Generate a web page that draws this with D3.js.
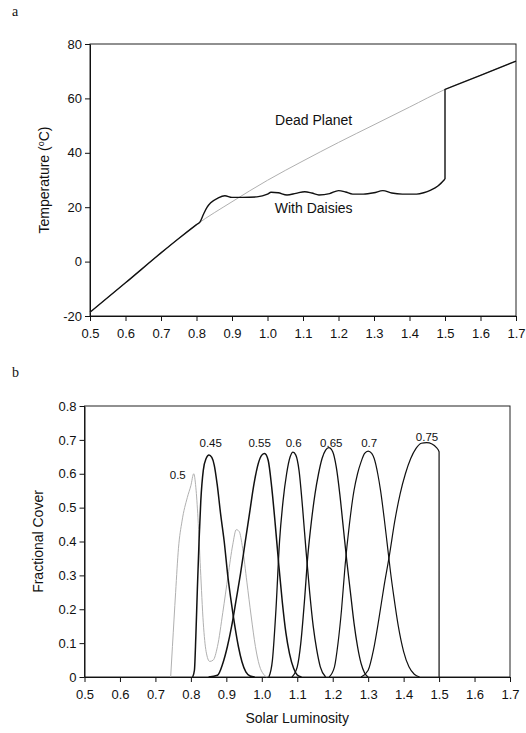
<!DOCTYPE html>
<html lang="en">
<head>
    <meta charset="UTF-8">
    <title>Daisyworld</title>
    <script src="https://d3js.org/d3.v7.min.js"></script>
    <style>
        body { margin: 0; background: #fff; }
        svg text { font-family: "Liberation Sans", Arial, sans-serif; fill: #111; }
        .axis path, .axis line { stroke: #111; stroke-width: 1px; }
        .axis text { font-size: 13px; }
        .frame { fill: none; stroke: #222; stroke-width: 1px; }
        .panel { font-family: "Liberation Serif", "Times New Roman", serif !important; font-size: 14px; }
    </style>
</head>
<body>
    <svg width="526" height="733"></svg>
    <script>
        // Panel a: temperature against solar luminosity
        const deadLum  = [0.5, 0.6, 0.7, 0.8, 0.9, 1.0, 1.1, 1.2, 1.3, 1.4, 1.5, 1.6, 1.7];
        const deadTemp = [-18.6, -7.8, 3.2, 13.6, 22.0, 29.9, 37.0, 43.8, 50.3, 56.8, 63.3, 68.5, 73.7];

        const daisyLum  = [0.5, 0.6, 0.7, 0.75, 0.8, 0.81, 0.82, 0.83, 0.84, 0.86, 0.88, 0.9, 0.93, 0.97, 1.0, 1.01, 1.03,
                           1.055, 1.08, 1.105, 1.125, 1.145, 1.175, 1.2, 1.22, 1.24, 1.27, 1.3, 1.325, 1.35,
                           1.38, 1.42, 1.44, 1.46, 1.48, 1.5, 1.5, 1.6, 1.7];
        const daisyTemp = [-18.6, -7.8, 3.2, 8.5, 13.6, 14.6, 17.5, 20.0, 21.6, 23.3, 24.2, 23.6, 23.6, 23.8, 24.8, 25.5, 25.3,
                           24.5, 25.1, 25.7, 25.2, 24.5, 25.0, 26.1, 25.6, 24.8, 24.8, 25.3, 26.1, 25.2,
                           24.8, 24.8, 25.3, 26.3, 27.8, 30.4, 63.3, 68.5, 73.7];

        const tempTicks = [-20, 0, 20, 40, 60, 80];
        const lumTicks  = [0.5, 0.6, 0.7, 0.8, 0.9, 1.0, 1.1, 1.2, 1.3, 1.4, 1.5, 1.6, 1.7];

        // Panel b: fractional cover of each daisy albedo
        const lum50 = [0.743, 0.748, 0.757, 0.765, 0.775, 0.79, 0.80, 0.808, 0.814, 0.82, 0.827, 0.835, 0.843, 0.853,
                       0.863, 0.875, 0.89, 0.905, 0.918, 0.928, 0.936, 0.946, 0.958, 0.97, 0.982, 0.993, 1.005, 1.015];
        const cov50 = [0, 0.09, 0.25, 0.38, 0.46, 0.53, 0.565, 0.60, 0.56, 0.47, 0.32, 0.16, 0.075, 0.046,
                       0.05, 0.09, 0.19, 0.30, 0.39, 0.435, 0.43, 0.38, 0.28, 0.18, 0.09, 0.035, 0.008, 0];

        const lum45 = [0.805, 0.81, 0.814, 0.818, 0.823, 0.828, 0.835, 0.843, 0.851, 0.859, 0.866, 0.874, 0.884,
                       0.894, 0.904, 0.914, 0.924, 0.934, 0.944, 0.955, 0.967, 0.98];
        const cov45 = [0, 0.02, 0.12, 0.25, 0.40, 0.52, 0.61, 0.645, 0.655, 0.648, 0.625, 0.57, 0.48,
                       0.40, 0.30, 0.22, 0.15, 0.09, 0.045, 0.015, 0.003, 0];

        const lum55 = [0.85, 0.875, 0.89, 0.903, 0.915, 0.928, 0.94, 0.952, 0.965, 0.978, 0.99, 1.0, 1.008, 1.018,
                       1.028, 1.038, 1.048, 1.058, 1.068, 1.078, 1.09, 1.1, 1.112];
        const cov55 = [0, 0.005, 0.04, 0.09, 0.15, 0.23, 0.305, 0.39, 0.48, 0.57, 0.63, 0.655, 0.66, 0.64,
                       0.56, 0.45, 0.33, 0.22, 0.13, 0.07, 0.025, 0.006, 0];

        const lum60 = [1.02, 1.03, 1.04, 1.05, 1.06, 1.07, 1.08, 1.088, 1.096, 1.105, 1.115, 1.125, 1.135, 1.145,
                       1.155, 1.165, 1.18];
        const cov60 = [0, 0.05, 0.2, 0.4, 0.52, 0.6, 0.65, 0.664, 0.655, 0.61, 0.5, 0.37, 0.25, 0.15,
                       0.08, 0.03, 0];

        const lum65 = [1.085, 1.1, 1.11, 1.12, 1.13, 1.14, 1.15, 1.16, 1.17, 1.18, 1.189, 1.2, 1.21, 1.22, 1.23,
                       1.24, 1.25, 1.26, 1.27, 1.28, 1.29, 1.3];
        const cov65 = [0, 0.03, 0.1, 0.22, 0.36, 0.46, 0.54, 0.6, 0.645, 0.67, 0.677, 0.665, 0.62, 0.54, 0.44,
                       0.34, 0.25, 0.16, 0.09, 0.04, 0.012, 0];

        const lum70 = [1.19, 1.205, 1.215, 1.225, 1.235, 1.247, 1.26, 1.27, 1.28, 1.29, 1.3, 1.31, 1.317, 1.327,
                       1.335, 1.345, 1.354, 1.363, 1.372, 1.385, 1.4, 1.415, 1.43, 1.445];
        const cov70 = [0, 0.03, 0.1, 0.2, 0.33, 0.45, 0.55, 0.6, 0.635, 0.66, 0.667, 0.66, 0.645, 0.6,
                       0.55, 0.47, 0.39, 0.31, 0.24, 0.15, 0.075, 0.03, 0.008, 0];

        const lum75 = [1.28, 1.3, 1.315, 1.33, 1.345, 1.36, 1.375, 1.39, 1.405, 1.42, 1.435, 1.45, 1.465, 1.48,
                       1.492, 1.5, 1.5];
        const cov75 = [0, 0.02, 0.08, 0.17, 0.27, 0.36, 0.46, 0.54, 0.6, 0.645, 0.675, 0.69, 0.692, 0.688,
                       0.678, 0.665, 0];

        const coverNames = ["0.5", "0.45", "0.55", "0.6", "0.65", "0.7", "0.75"];
        const labelLum   = [0.763, 0.856, 0.994, 1.09, 1.196, 1.303, 1.466];
        const labelCover = [0.596, 0.69, 0.69, 0.69, 0.69, 0.69, 0.708];
        const coverTicks = [0, 0.1, 0.2, 0.3, 0.4, 0.5, 0.6, 0.7, 0.8];

        const svg = d3.select("svg");
        const zip = (xs, ys) => xs.map((x, i) => [x, ys[i]]);

        // ---------- panel a ----------
        const xA = d3.scaleLinear().domain([0.5, 1.7]).range([90, 516]);
        const yA = d3.scaleLinear().domain([-20, 80]).range([316, 44]);

        svg.append("text").attr("class", "panel").attr("x", 12).attr("y", 16).text("a");

        svg.append("rect").attr("class", "frame")
            .attr("x", xA(0.5)).attr("y", yA(80))
            .attr("width", xA(1.7) - xA(0.5)).attr("height", yA(-20) - yA(80));

        svg.append("g").attr("class", "axis")
            .attr("transform", `translate(0,${yA(-20)})`)
            .call(d3.axisBottom(xA).tickValues(lumTicks).tickFormat(d3.format(".1f")).tickSize(5).tickSizeOuter(0))
            .selectAll("text").attr("dy", "1.05em");

        // plain hyphen for the negative tick, as in the original
        svg.append("g").attr("class", "axis")
            .attr("transform", `translate(${xA(0.5)},0)`)
            .call(d3.axisLeft(yA).tickValues(tempTicks).tickFormat(d => String(d)).tickSize(5).tickSizeOuter(0));

        const smoothA = d3.line().x(d => xA(d[0])).y(d => yA(d[1])).curve(d3.curveMonotoneX);
        const straightA = d3.line().x(d => xA(d[0])).y(d => yA(d[1]));

        svg.append("path").datum(zip(deadLum, deadTemp))
            .attr("fill", "none").attr("stroke", "#b0b0b0").attr("stroke-width", 1)
            .attr("d", smoothA);

        // the daisy curve is smooth up to the collapse at L = 1.5, then jumps to the dead-planet line
        const daisyPts = zip(daisyLum, daisyTemp);
        const jump = daisyLum.findIndex((v, i) => i > 0 && v === daisyLum[i - 1]);
        svg.append("path").datum(daisyPts.slice(0, jump))
            .attr("fill", "none").attr("stroke", "#111").attr("stroke-width", 1.4)
            .attr("d", smoothA);
        svg.append("path").datum(daisyPts.slice(jump - 1))
            .attr("fill", "none").attr("stroke", "#111").attr("stroke-width", 1.4)
            .attr("d", straightA);

        svg.append("text").attr("x", xA(1.13)).attr("y", yA(52)).attr("dy", "0.35em")
            .attr("text-anchor", "middle").attr("font-size", 14).text("Dead Planet");
        svg.append("text").attr("x", xA(1.13)).attr("y", yA(19.7)).attr("dy", "0.35em")
            .attr("text-anchor", "middle").attr("font-size", 14).text("With Daisies");

        const tTitle = svg.append("text")
            .attr("transform", `translate(44,${(yA(80) + yA(-20)) / 2}) rotate(-90)`)
            .attr("text-anchor", "middle").attr("dy", "0.35em").attr("font-size", 14);
        tTitle.append("tspan").text("Temperature (");
        tTitle.append("tspan").attr("font-size", 9).attr("dy", "-0.5em").text("o");
        tTitle.append("tspan").attr("dy", "0.32em").text("C)");

        // ---------- panel b ----------
        const xB = d3.scaleLinear().domain([0.5, 1.7]).range([84.5, 510]);
        const yB = d3.scaleLinear().domain([0, 0.8]).range([677, 406]);

        svg.append("text").attr("class", "panel").attr("x", 12).attr("y", 377).text("b");

        svg.append("rect").attr("class", "frame")
            .attr("x", xB(0.5)).attr("y", yB(0.8))
            .attr("width", xB(1.7) - xB(0.5)).attr("height", yB(0) - yB(0.8));

        svg.append("g").attr("class", "axis")
            .attr("transform", `translate(0,${yB(0)})`)
            .call(d3.axisBottom(xB).tickValues(lumTicks).tickFormat(d3.format(".1f")).tickSize(5).tickSizeOuter(0))
            .selectAll("text").attr("dy", "1.05em");

        svg.append("g").attr("class", "axis")
            .attr("transform", `translate(${xB(0.5)},0)`)
            .call(d3.axisLeft(yB).tickValues(coverTicks).tickFormat(d => d === 0 ? "0" : d3.format(".1f")(d))
                .tickSize(5).tickSizeOuter(0));

        const lineB = d3.line().x(d => xB(d[0])).y(d => yB(d[1])).curve(d3.curveMonotoneX);

        const coverSeries = [
            { lum: lum50, cov: cov50, color: "#b0b0b0", w: 1 },
            { lum: lum45, cov: cov45, color: "#111", w: 1.5 },
            { lum: lum55, cov: cov55, color: "#111", w: 1.5 },
            { lum: lum60, cov: cov60, color: "#111", w: 1.3 },
            { lum: lum65, cov: cov65, color: "#111", w: 1.3 },
            { lum: lum70, cov: cov70, color: "#111", w: 1.2 },
            { lum: lum75, cov: cov75, color: "#111", w: 1.2 }
        ];

        svg.selectAll(".cover")
            .data(coverSeries)
            .enter()
            .append("path")
            .attr("class", "cover")
            .attr("fill", "none")
            .attr("stroke", d => d.color)
            .attr("stroke-width", d => d.w)
            .attr("d", d => lineB(zip(d.lum, d.cov)));

        svg.selectAll(".clabel")
            .data(coverNames)
            .enter()
            .append("text")
            .attr("class", "clabel")
            .attr("x", (d, i) => xB(labelLum[i]))
            .attr("y", (d, i) => yB(labelCover[i]))
            .attr("dy", "0.35em")
            .attr("text-anchor", "middle")
            .attr("font-size", 11.5)
            .text(d => d);

        svg.append("text").attr("x", (xB(0.5) + xB(1.7)) / 2).attr("y", 723)
            .attr("text-anchor", "middle").attr("font-size", 14).text("Solar Luminosity");

        svg.append("text")
            .attr("transform", `translate(38,${(yB(0) + yB(0.8)) / 2}) rotate(-90)`)
            .attr("text-anchor", "middle").attr("dy", "0.35em").attr("font-size", 14)
            .text("Fractional Cover");
    </script>
</body>
</html>
